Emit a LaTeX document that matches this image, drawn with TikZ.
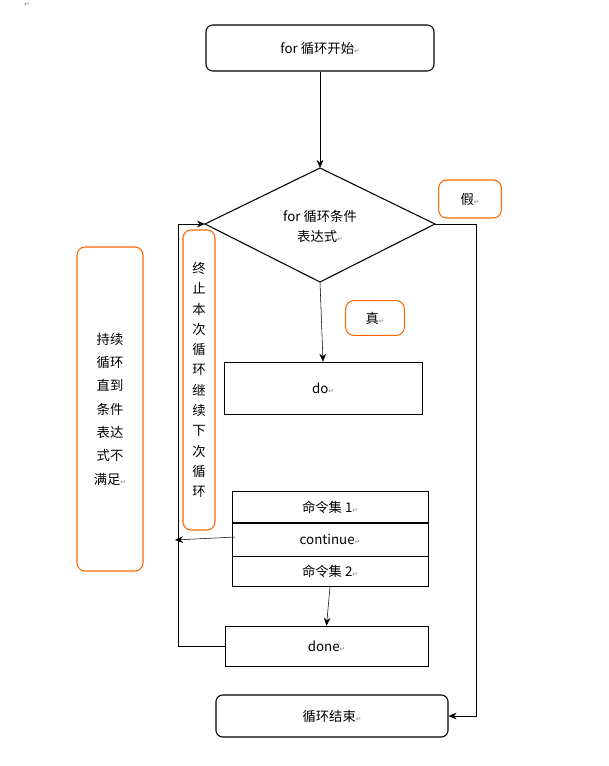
\documentclass[tikz,border=0pt]{standalone}
\usepackage{fontspec}
\setmainfont{Noto Sans CJK SC}
\newfontfamily\sym{DejaVu Sans}
\usetikzlibrary{arrows.meta}
\newcommand{\rt}{{\sym\fontsize{5}{5}\selectfont\color{gray}↵}}
\begin{document}
\begin{tikzpicture}[x=0.75pt,y=-0.75pt,font=\fontsize{10}{15}\selectfont,
  blk/.style={draw,thick,rounded corners=5pt},
  org/.style={draw=orange!80!red,thick,rounded corners=6pt},
  sq/.style={draw},
  arr/.style={-{Stealth[length=6pt,width=5pt]}}]
\useasboundingbox (0,0) rectangle (608,766);
\node at (27,4) {\rt};
\node[blk,minimum width=171pt,minimum height=34.5pt] (start) at (320,48) {for 循环开始\rt};
\coordinate (dt) at (320,168); \coordinate (dl) at (205,224);
\coordinate (dr) at (435,224); \coordinate (db) at (320,282);
\draw[thick] (dt)--(dr)--(db)--(dl)--cycle;
\node[align=center] (cond) at (320,226) {for 循环条件\\表达式\rt};
\draw[arr] (start.south) -- (dt);
\node[org,minimum width=47pt,minimum height=28.5pt] (jia) at (470,199) {假\rt};
\node[blk,minimum width=174pt,minimum height=31.5pt] (end) at (332,716) {循环结束\rt};
\coordinate (r1) at (476,224); \coordinate (r2) at (476,716);
\draw[arr] (dr)--(r1)--(r2)--(end.east);
\node[sq,minimum width=148.5pt,minimum height=39pt] (do) at (323,388) {do\rt};
\draw[arr] (db) -- (do.north);
\node[org,minimum width=44pt,minimum height=26pt] (zhen) at (375,318) {真\rt};
\node[sq,minimum width=147pt,minimum height=23.25pt] (c1) at (330,507) {命令集 1\rt};
\node[sq,minimum width=147pt,minimum height=24.75pt,anchor=north] (c2) at (c1.south) {continue\rt};
\node[sq,minimum width=147pt,minimum height=22.5pt,anchor=north] (c3) at (c2.south) {命令集 2\rt};
\coordinate (cl) at (175,540);
\draw[arr] (235,537) -- (cl);
\node[sq,minimum width=152pt,minimum height=30pt] (done) at (326.5,646) {done\rt};
\draw[arr] (c3.south) -- (done.north);
\coordinate (l1) at (178,646); \coordinate (l2) at (178,224);
\draw[arr] (done.west) -- (l1) -- (l2) -- (dl);
\node[org,minimum width=24pt,minimum height=225pt,align=center,font=\fontsize{10}{15.2}\selectfont] (v1) at (199,380) {终\\止\\本\\次\\循\\环\\继\\续\\下\\次\\循\\环};
\node[org,minimum width=49.5pt,minimum height=243pt,align=center,font=\fontsize{10}{17.5}\selectfont] (v2) at (110,409) {持续\\循环\\直到\\条件\\表达\\式不\\满足\rt};
\end{tikzpicture}
\end{document}
